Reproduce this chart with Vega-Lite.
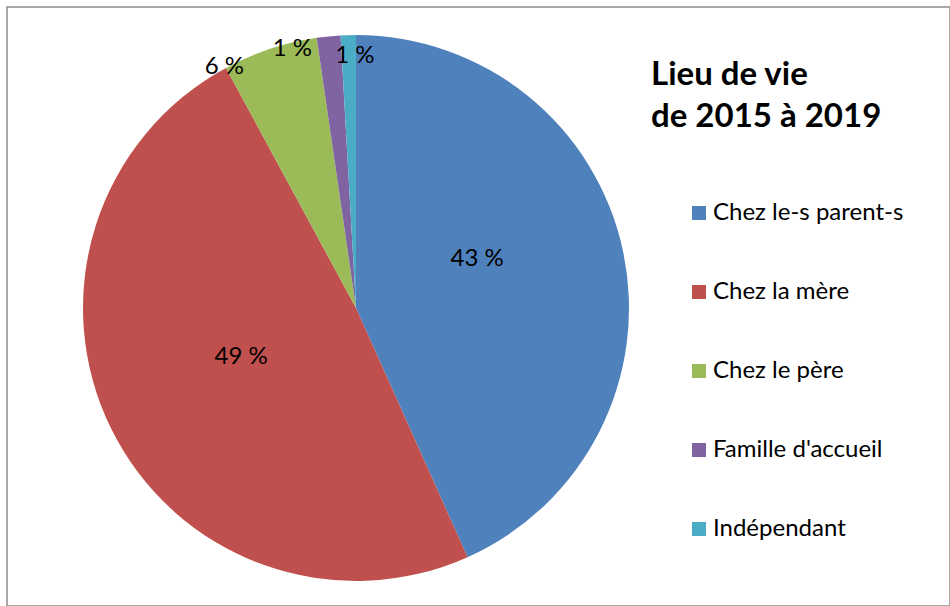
{
  "$schema": "https://vega.github.io/schema/vega-lite/v6.json",
  "width": 943,
  "height": 599,
  "padding": {"left": 7, "top": 7, "right": 0, "bottom": 0},
  "autosize": {"type": "none"},
  "background": "white",
  "config": {
    "view": {"stroke": "#8c8c8c", "strokeWidth": 1.5},
    "font": "Lato",
    "text": {"font": "Lato", "fontSize": 24, "color": "black"}
  },
  "data": {
    "values": [
      {"cat": "Chez le-s parent-s", "pct": 43.3, "rang": 1, "etiquette": "43 %"},
      {"cat": "Chez la mère", "pct": 48.8, "rang": 2, "etiquette": "49 %"},
      {"cat": "Chez le père", "pct": 5.6, "rang": 3, "etiquette": "6 %"},
      {"cat": "Famille d'accueil", "pct": 1.4, "rang": 4, "etiquette": "1 %"},
      {"cat": "Indépendant", "pct": 0.9, "rang": 5, "etiquette": "1 %"}
    ]
  },
  "encoding": {
    "theta": {"field": "pct", "type": "quantitative", "stack": true},
    "order": {"field": "rang", "type": "quantitative"},
    "x": {"value": 349},
    "y": {"value": 301}
  },
  "layer": [
    {
      "mark": {"type": "arc", "outerRadius": 273},
      "encoding": {
        "color": {
          "field": "cat",
          "type": "nominal",
          "sort": ["Chez le-s parent-s", "Chez la mère", "Chez le père", "Famille d'accueil", "Indépendant"],
          "scale": {
            "domain": ["Chez le-s parent-s", "Chez la mère", "Chez le père", "Famille d'accueil", "Indépendant"],
            "range": ["#4F81BD", "#C0504D", "#9BBB59", "#8064A2", "#4BACC6"]
          },
          "legend": {
            "orient": "none",
            "legendX": 644,
            "legendY": 52,
            "padding": 0,
            "title": ["Lieu de vie", "de 2015 à 2019"],
            "titleFont": "Lato",
            "titleFontSize": 33,
            "titleFontWeight": "bold",
            "titleColor": "black",
            "titleLineHeight": 42,
            "titlePadding": 67,
            "titleLimit": 500,
            "labelFont": "Lato",
            "labelFontSize": 24,
            "labelColor": "black",
            "labelLimit": 500,
            "symbolType": "square",
            "symbolSize": 196,
            "symbolStrokeWidth": 0,
            "symbolOpacity": 1,
            "symbolOffset": 36,
            "labelOffset": 2,
            "rowPadding": 55
          }
        }
      }
    },
    {
      "mark": {"type": "text", "radius": 131, "dx": -7, "dy": -22},
      "encoding": {
        "detail": {"field": "cat"},
        "text": {"condition": {"test": "datum.cat === 'Chez le-s parent-s'", "field": "etiquette"}, "value": ""}
      }
    },
    {
      "mark": {"type": "text", "radius": 128, "dy": -8},
      "encoding": {
        "detail": {"field": "cat"},
        "text": {"condition": {"test": "datum.cat === 'Chez la mère'", "field": "etiquette"}, "value": ""}
      }
    },
    {
      "mark": {"type": "text", "radius": 275, "dx": -45, "dy": 20},
      "encoding": {
        "detail": {"field": "cat"},
        "text": {"condition": {"test": "datum.cat === 'Chez le père'", "field": "etiquette"}, "value": ""}
      }
    },
    {
      "mark": {"type": "text", "radius": 266, "dx": -37, "dy": 6},
      "encoding": {
        "detail": {"field": "cat"},
        "text": {"condition": {"test": "datum.cat === \"Famille d'accueil\"", "field": "etiquette"}, "value": ""}
      }
    },
    {
      "mark": {"type": "text", "radius": 252, "dx": 6},
      "encoding": {
        "detail": {"field": "cat"},
        "text": {"condition": {"test": "datum.cat === 'Indépendant'", "field": "etiquette"}, "value": ""}
      }
    }
  ]
}
